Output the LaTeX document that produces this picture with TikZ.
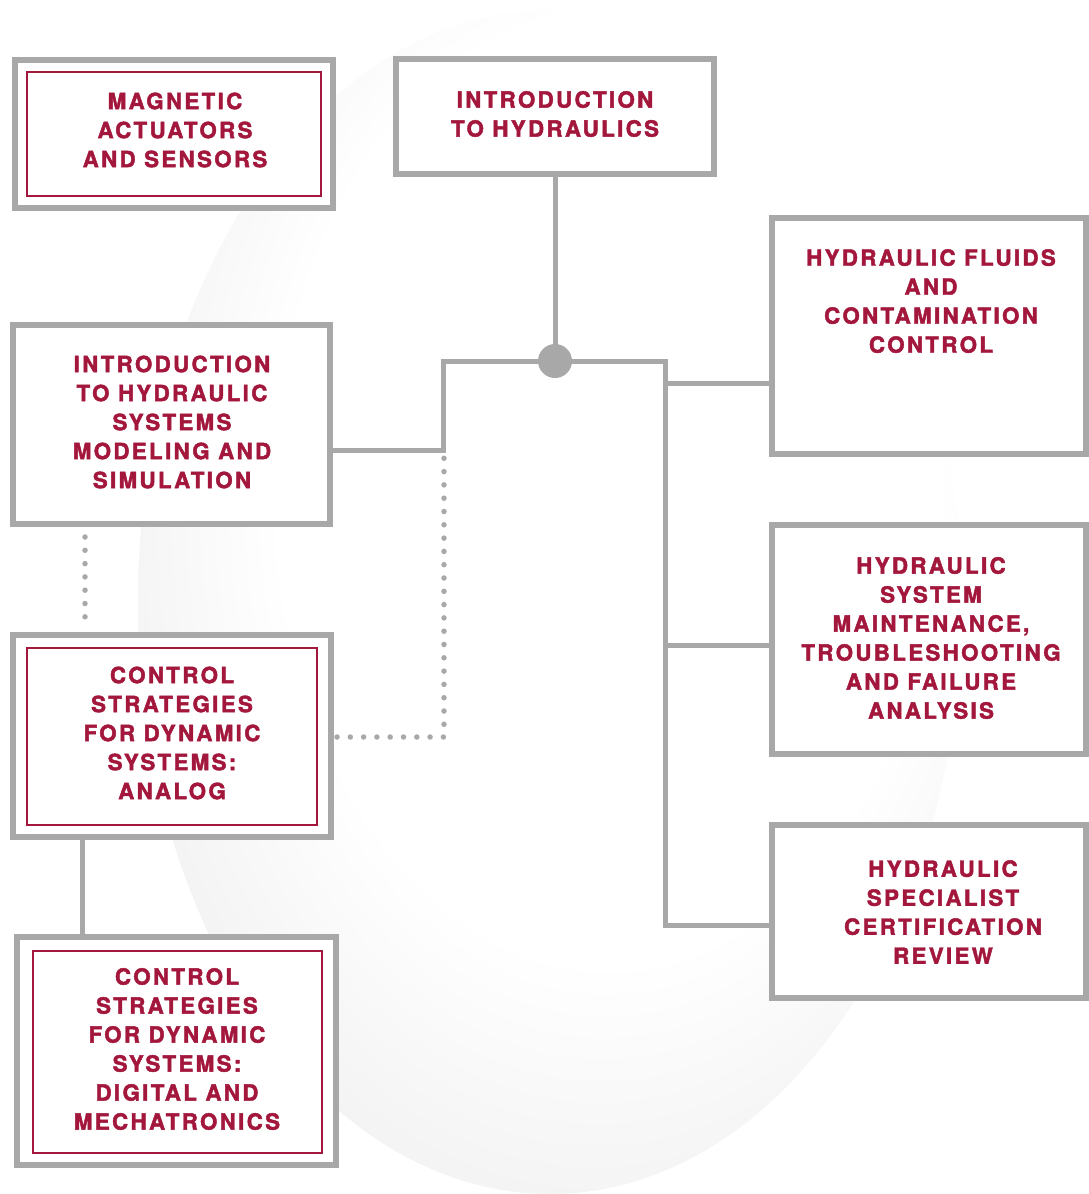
\documentclass[tikz,border=0pt]{standalone}
\usepackage{fontspec}
\setmainfont{TeX Gyre Heros}
\newfontfamily\boxfont[LetterSpace=10.5, BoldFeatures={FakeBold=2}]{TeX Gyre Heros}
\usetikzlibrary{calc}
\definecolor{maroon}{HTML}{A3173C}
\definecolor{lgray}{HTML}{A8A8A8}
\pgfdeclareradialshading{eggshade}{\pgfpoint{6bp}{8bp}}{color(0bp)=(white); color(20bp)=(white); color(50bp)=(black!15)}
\tikzset{
  box/.style={draw=lgray, line width=6pt, fill=white, inner sep=0pt, rectangle},
  redbox/.style={draw=maroon, line width=2pt, inner sep=0pt, rectangle},
  txt/.style={text=maroon, align=center, inner sep=0pt, font=\boxfont\bfseries\fontsize{22.3}{29}\selectfont},
  conn/.style={draw=lgray, line width=5pt},
  dotconn/.style={draw=lgray, line width=5.5pt, line cap=round, dash pattern=on 0pt off 13.3pt},
}
\begin{document}
\begin{tikzpicture}[x=1pt,y=-1pt]
\useasboundingbox (0,0) rectangle (1089,1194);
\begin{scope}
\clip (0,0) rectangle (1089,1194);
% background egg
\shade[shading=eggshade] (550,602) ellipse [x radius=412, y radius=592];

% boxes
\node[box, minimum width=318pt, minimum height=148pt] (b1) at (174,134) {};
\node[redbox, minimum width=294pt, minimum height=124pt] at (b1.center) {};
\node[txt] (t1) at (175,130) {MAGNETIC\\ACTUATORS\\AND SENSORS};

\node[box, minimum width=318pt, minimum height=115pt] (b2) at (555,116.5) {};
\node[txt] (t2) at (555,114) {INTRODUCTION\\TO HYDRAULICS};

\node[box, minimum width=314pt, minimum height=236pt] (b3) at (929,336) {};
\node[txt, anchor=north] (t3) at (931,249) {HYDRAULIC FLUIDS\\AND\\CONTAMINATION\\CONTROL};

\node[box, minimum width=317pt, minimum height=199pt] (b4) at (171.5,424.5) {};
\node[txt] (t4) at (172,422) {INTRODUCTION\\TO HYDRAULIC\\SYSTEMS\\MODELING AND\\SIMULATION};

\node[box, minimum width=318pt, minimum height=202pt] (b5) at (172,736) {};
\node[redbox, minimum width=290pt, minimum height=177pt] at (172,736.5) {};
\node[txt] (t5) at (172,733) {CONTROL\\STRATEGIES\\FOR DYNAMIC\\SYSTEMS:\\ANALOG};

\node[box, minimum width=314pt, minimum height=229pt] (b6) at (929,639.5) {};
\node[txt] (t6) at (931,638) {HYDRAULIC\\SYSTEM\\MAINTENANCE,\\TROUBLESHOOTING\\AND FAILURE\\ANALYSIS};

\node[box, minimum width=314pt, minimum height=173pt] (b7) at (929,911.5) {};
\node[txt] (t7) at (943,912) {HYDRAULIC\\SPECIALIST\\CERTIFICATION\\REVIEW};

\node[box, minimum width=319pt, minimum height=228pt] (b8) at (176.5,1051) {};
\node[redbox, minimum width=289pt, minimum height=202pt] at (177.5,1052) {};
\node[txt] (t8) at (177,1049) {CONTROL\\STRATEGIES\\FOR DYNAMIC\\SYSTEMS:\\DIGITAL AND\\MECHATRONICS};

% junction
\coordinate (dot) at (555,361);
\coordinate (jl) at (443,361);
\coordinate (jr) at (665,361);
\coordinate (jlb) at (443,450);
\coordinate (jrb) at (665,925);

\draw[conn] (b2.south) -- (dot);
\draw[conn] (b4.east |- jlb) -- (jlb) -- (jl) -- (jr) -- (jrb) -- (b7.west |- jrb);
\draw[conn] (665,383) -- (b3.west |- 0,383);
\draw[conn] (665,645) -- (b6.west |- 0,645);
\fill[lgray] (dot) circle (17pt);

% dotted
\coordinate (dv) at (444,737);
\draw[dotconn] ($(b5.east |- dv)+(3,0)$) -- (dv) -- (444,457.7);
\draw[dotconn] (85,537) -- (85,630);

% solid between 5 and 8
\draw[conn] (b5.south -| 82,0) -- (b8.north -| 82,0);
\end{scope}
\end{tikzpicture}
\end{document}
